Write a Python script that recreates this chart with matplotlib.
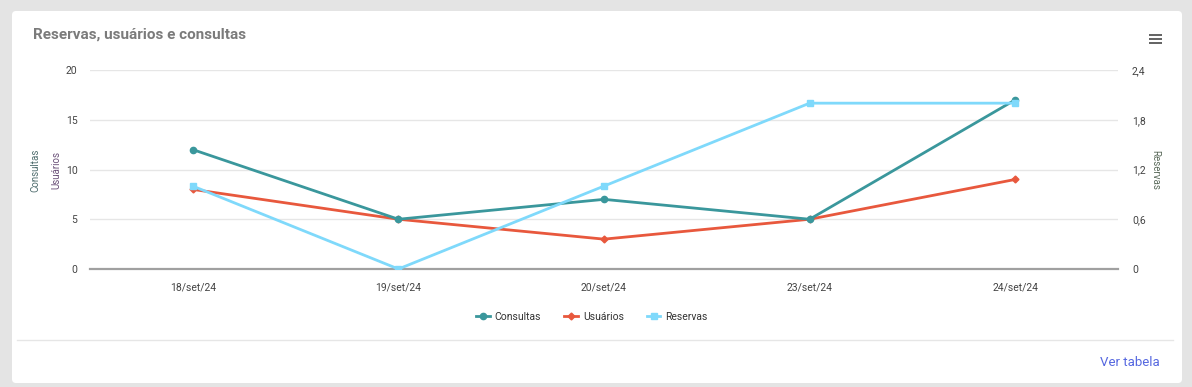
import matplotlib.pyplot as plt
from matplotlib.patches import FancyBboxPatch, Rectangle
from matplotlib.lines import Line2D

plt.rcParams["font.family"] = ["Roboto", "DejaVu Sans"]

dates = ["18/set/24", "19/set/24", "20/set/24", "23/set/24", "24/set/24"]
consultas = [12, 5, 7, 5, 17]
usuarios = [8, 5, 3, 5, 9]
reservas = [1, 0, 1, 2, 2]

left_ticks = [0, 5, 10, 15, 20]
right_ticks = [0, 0.6, 1.2, 1.8, 2.4]
right_labels = ["0", "0,6", "1,2", "1,8", "2,4"]

C_CONS = "#3a979c"
C_USU = "#e8583d"
C_RES = "#7fd9fb"
GRID = "#e6e6e6"
TICK = "#444444"

W, H = 1192, 387
fig = plt.figure(figsize=(W / 100, H / 100), dpi=100)
fig.patch.set_facecolor("#e4e4e4")

# white card
bg = fig.add_axes([0, 0, 1, 1])
bg.set_xlim(0, W)
bg.set_ylim(H, 0)
bg.axis("off")
bg.add_patch(FancyBboxPatch((12, 11), 1170, 372, boxstyle="round,pad=0,rounding_size=4",
                            facecolor="white", edgecolor="none"))
bg.text(33, 35, "Reservas, usuários e consultas", fontsize=11, weight="bold",
        color="#7b7b7b", va="center", ha="left")
for dy in (-4, 0, 4):
    bg.add_patch(Rectangle((1149, 39 + dy - 1), 13, 2.2, facecolor="#666666", edgecolor="none"))
bg.plot([17, 1173], [340, 340], color="#e6e6e6", lw=1)
bg.text(1160, 362, "Ver tabela", fontsize=9.5, color="#5668e0", ha="right", va="center")
bg.text(35, 170, "Consultas", rotation=90, fontsize=7, color="#4f6d6e", ha="center", va="center")
bg.text(56, 170, "Usuários", rotation=90, fontsize=7, color="#6a5078", ha="center", va="center")
bg.text(1155, 170, "Reservas", rotation=-90, fontsize=7, color="#5a6a5a", ha="center", va="center")

ax = fig.add_axes([90 / W, 1 - 269 / H, (1118 - 90) / W, (269 - 70) / H])
ax.set_facecolor("none")
x = list(range(len(dates)))
ax.set_xlim(-0.5, len(dates) - 0.5)
ax.set_ylim(0, 20)
ax.set_yticks(left_ticks)
ax.grid(axis="y", color=GRID, lw=1)
ax.set_axisbelow(True)
for s in ("top", "right", "left"):
    ax.spines[s].set_visible(False)
ax.spines["bottom"].set_color("#a0a0a0")
ax.spines["bottom"].set_linewidth(1.6)
ax.set_xticks(x)
ax.set_xticklabels(dates)
ax.tick_params(axis="both", length=0, labelsize=7.5, colors=TICK)
ax.tick_params(axis="x", pad=10)
ax.tick_params(axis="y", pad=9)

ax.plot(x, consultas, color=C_CONS, lw=2, marker="o", ms=4.5, zorder=4)
ax.plot(x, usuarios, color=C_USU, lw=2, marker="D", ms=3.5, zorder=3)

ax2 = ax.twinx()
ax2.set_ylim(0, 2.4)
ax2.set_yticks(right_ticks)
ax2.set_yticklabels(right_labels)
for s in ("top", "right", "left", "bottom"):
    ax2.spines[s].set_visible(False)
ax2.tick_params(axis="y", length=0, labelsize=7.5, colors=TICK, pad=10)
ax2.plot(x, reservas, color=C_RES, lw=2, marker="s", ms=4.5, zorder=2)

handles = [
    Line2D([], [], color=C_CONS, lw=2, marker="o", ms=4.5),
    Line2D([], [], color=C_USU, lw=2, marker="D", ms=3.5),
    Line2D([], [], color=C_RES, lw=2, marker="s", ms=4.5),
]
fig.legend(handles, ["Consultas", "Usuários", "Reservas"], loc="center",
           bbox_to_anchor=(592 / W, 1 - 317 / H), ncol=3, frameon=False,
           fontsize=7.5, handlelength=1.3, columnspacing=2.2, handletextpad=0.5,
           labelcolor="#333333")

fig.savefig("out.png", dpi=100, facecolor=fig.get_facecolor())
